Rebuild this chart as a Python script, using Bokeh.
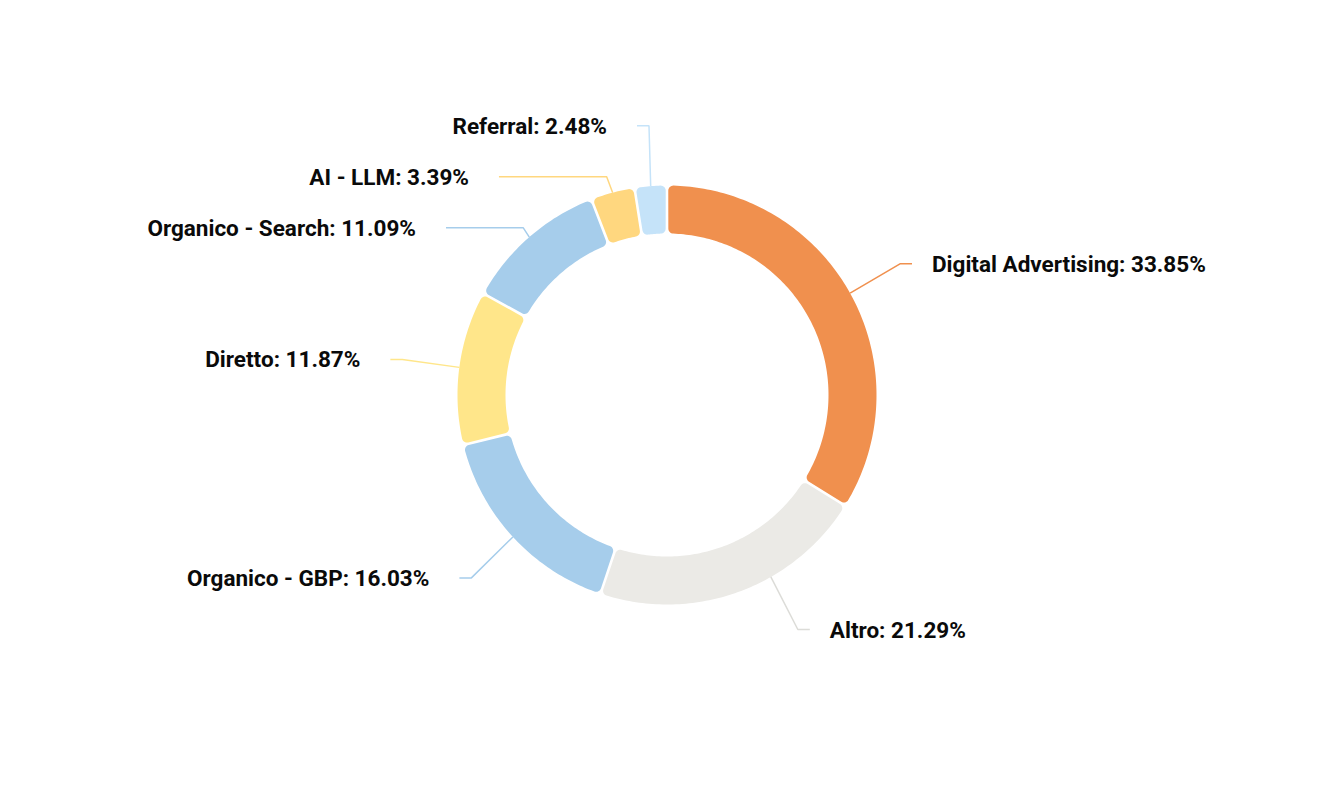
import math
from bokeh.plotting import figure
from bokeh.models import Range1d, ColumnDataSource
from bokeh.core.properties import value
from bokeh.embed import file_html
from bokeh.resources import INLINE

# ---- data ----
categories = ["Digital Advertising", "Altro", "Organico - GBP", "Diretto",
              "Organico - Search", "AI - LLM", "Referral"]
shares = [33.85, 21.29, 16.03, 11.87, 11.09, 3.39, 2.48]
colors = ["#F0904E", "#EBEAE6", "#A6CDEB", "#FFE68A", "#A6CDEB", "#FFD77F", "#C5E3F9"]

# ---- layout (screen pixel coordinates) ----
W, H = 1317, 783
CX, CY = 666.5, 394.5
R_OUT, R_IN = 209.5, 161.5
CORNER = 5.0
GAP = 1.3          # half gap in px
R_LABEL = 270.0
SPACING = 51.0
Y_MAX = CY + R_OUT + 25

p = figure(width=W, height=H, output_backend="svg", toolbar_location=None,
           x_range=Range1d(0, W), y_range=Range1d(H, 0),
           min_border=0)
p.axis.visible = False
p.grid.visible = False
p.outline_line_color = None
p.background_fill_color = "white"
p.border_fill_color = "white"


def polar(rho, th):
    return CX + rho * math.sin(th), CY - rho * math.cos(th)


def corner_arc(center, p_from, p_to, n=8):
    ax = math.atan2(p_from[1] - center[1], p_from[0] - center[0])
    bx = math.atan2(p_to[1] - center[1], p_to[0] - center[0])
    d = bx - ax
    while d > math.pi:
        d -= 2 * math.pi
    while d < -math.pi:
        d += 2 * math.pi
    rad = math.hypot(p_from[0] - center[0], p_from[1] - center[1])
    pts = []
    for i in range(n + 1):
        a = ax + d * i / n
        pts.append((center[0] + rad * math.cos(a), center[1] + rad * math.sin(a)))
    return pts


def arc(rho, t1, t2, n):
    return [polar(rho, t1 + (t2 - t1) * i / n) for i in range(n + 1)]


def slice_shape(t1, t2):
    c = CORNER
    do = math.asin(c / (R_OUT - c))
    di = math.asin(c / (R_IN + c))
    ro_edge = math.sqrt((R_OUT - c) ** 2 - c ** 2)
    ri_edge = math.sqrt((R_IN + c) ** 2 - c ** 2)
    g_o = GAP / R_OUT
    g_i = GAP / R_IN
    a1o, a2o = t1 + g_o, t2 - g_o
    a1i, a2i = t1 + g_i, t2 - g_i
    n = max(6, int((t2 - t1) * 60))
    pts = []
    pts += arc(R_OUT, a1o + do, a2o - do, n)
    pts += corner_arc(polar(R_OUT - c, a2o - do), polar(R_OUT, a2o - do), polar(ro_edge, a2o))
    pts += corner_arc(polar(R_IN + c, a2i - di), polar(ri_edge, a2i), polar(R_IN, a2i - di))
    pts += arc(R_IN, a2i - di, a1i + di, n)
    pts += corner_arc(polar(R_IN + c, a1i + di), polar(R_IN, a1i + di), polar(ri_edge, a1i))
    pts += corner_arc(polar(R_OUT - c, a1o + do), polar(ro_edge, a1o), polar(R_OUT, a1o + do))
    return [q[0] for q in pts], [q[1] for q in pts]


total = sum(shares)
xs, ys, mids = [], [], []
acc = 0.0
for s in shares:
    t1 = acc / total * 2 * math.pi
    acc += s
    t2 = acc / total * 2 * math.pi
    sx, sy = slice_shape(t1, t2)
    xs.append(sx)
    ys.append(sy)
    mids.append((t1 + t2) / 2)

p.patches(xs=xs, ys=ys, fill_color=colors, line_color=None)

# ---- label placement ----
info = []
for i, m in enumerate(mids):
    tx, ty = polar(R_OUT, m)
    ny = CY - R_LABEL * math.cos(m)
    side = 1 if math.sin(m) >= 0 else -1
    info.append(dict(i=i, touch=(tx, ty), ny=ny, y=ny, side=side, pushed=False))

for side in (1, -1):
    group = sorted([d for d in info if d["side"] == side], key=lambda d: d["ny"])
    for k in range(1, len(group)):
        if group[k]["y"] < group[k - 1]["y"] + SPACING:
            group[k]["y"] = group[k - 1]["y"] + SPACING
            group[k]["pushed"] = True
    for d in group:
        if d["y"] > Y_MAX:
            d["y"] = Y_MAX
            # connector re-anchored to the angle matching the clamped label
            th = math.acos((CY - d["y"]) / R_LABEL)
            if d["side"] < 0:
                th = 2 * math.pi - th
            d["touch"] = polar(R_OUT, th)

lx, ly, ltext, lalign = [], [], [], []
line_xs, line_ys, line_cols = [], [], []
for d in info:
    i = d["i"]
    y = d["y"]
    dy = y - CY
    xc = CX + d["side"] * math.sqrt(max(R_LABEL ** 2 - dy ** 2, 0))
    if d["side"] > 0:
        end_x = xc + 9
        text_x = xc + 29
        lalign.append("left")
    else:
        end_x = xc - 9
        text_x = xc - 39
        lalign.append("right")
    crook_x = xc - 3 * d["side"]
    if d["pushed"]:
        crook_x = d["touch"][0] + 6 * d["side"]
    line_xs.append([end_x, crook_x, d["touch"][0]])
    line_ys.append([y, y, d["touch"][1]])
    line_cols.append(colors[i] if colors[i] != "#EBEAE6" else "#DCDCD8")
    lx.append(text_x)
    ly.append(y)
    ltext.append(f"{categories[i]}: {shares[i]:.2f}%")

p.multi_line(xs=line_xs, ys=line_ys, line_color=line_cols, line_width=1.5)

src = ColumnDataSource(dict(x=lx, y=ly, text=ltext, align=lalign))
p.text(x="x", y="y", text="text", source=src, text_align="align",
       text_baseline="middle", text_font=value("Roboto"), text_font_style="bold",
       text_font_size="22.5px", text_color="#0A0A0A")

open("out.html", "w").write(file_html(p, INLINE))
